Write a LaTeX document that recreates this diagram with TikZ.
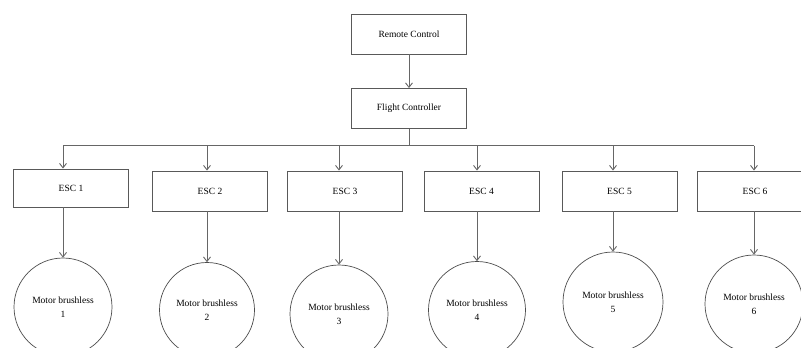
\documentclass[tikz,border=0pt]{standalone}
\usepackage{fontspec}
\setmainfont{Liberation Serif}
\usepackage{tikz}
\usetikzlibrary{arrows.meta}

\begin{document}
\begin{tikzpicture}[
		x=1pt,y=-1pt,
		box/.style={rectangle,draw=black!65,line width=0.9pt,minimum width=115pt,minimum height=40pt,inner sep=0pt,font=\fontsize{9.5}{11}\selectfont},
		motor/.style={circle,draw=black!70,line width=0.7pt,minimum size=98pt,inner sep=0pt,align=center,font=\fontsize{9.5}{14}\selectfont},
		wire/.style={draw=black!60,line width=0.9pt},
		>={Straight Barb[length=4.5pt,width=7pt]}]
	\useasboundingbox (0,0) rectangle (801,348);
	\clip (0,0) rectangle (801,348);
	%% top boxes
	\node[box] (rc) at (409,34) {Remote Control};
	\node[box] (fc) at (409,108.5) {Flight Controller};
	\draw[wire,->] (rc) -- (fc);
	%% escs
	\node[box,minimum height=38pt] (esc1) at (71,188) {ESC 1};
	\node[box] (esc2) at (210,191) {ESC 2};
	\node[box] (esc3) at (345,191) {ESC 3};
	\node[box] (esc4) at (481.5,191) {ESC 4};
	\node[box] (esc5) at (619.5,191) {ESC 5};
	\node[box] (esc6) at (755,191) {ESC 6};
	%% motors
	\node[motor] (m1) at (63,307) {Motor brushless\\1};
	\node[motor,minimum size=95pt] (m2) at (207,310) {Motor brushless\\2};
	\node[motor] (m3) at (339,314) {Motor brushless\\3};
	\node[motor,minimum size=97pt] (m4) at (477,310) {Motor brushless\\4};
	\node[motor,minimum size=100pt] (m5) at (613,302) {Motor brushless\\5};
	\node[motor,minimum size=98pt] (m6) at (754,304) {Motor brushless\\6};
	%% bus
	\coordinate (hub) at (fc.south |- 0,145.5);
	\draw[wire] (fc.south) -- (hub);
	\draw[wire] (m1.center |- hub) -- (m6.center |- hub);
	\foreach \i in {1,...,6}{
		\draw[wire,->] (m\i.center |- hub) -- (m\i.center |- esc\i.north);
		\draw[wire,->] (m\i.center |- esc\i.south) -- (m\i.north);
	}
\end{tikzpicture}
\end{document}
